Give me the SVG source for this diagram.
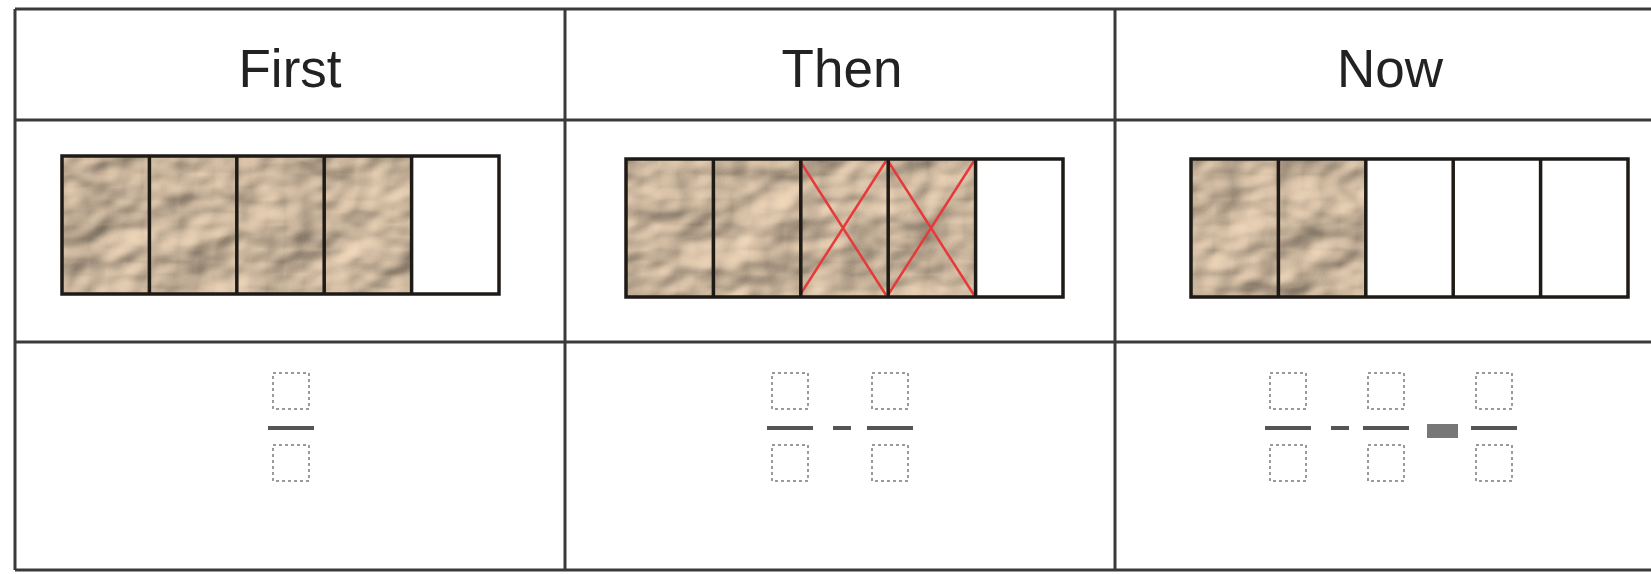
<svg xmlns="http://www.w3.org/2000/svg" width="1651" height="574" viewBox="0 0 1651 574">
<style>
.grid{stroke:#3a3a3a;stroke-width:3;fill:none}
.hdr{font-family:"Liberation Sans",Arial,sans-serif;font-size:53px;fill:#222;text-anchor:middle}
.cell{fill:none;stroke:#1e1a16;stroke-width:3.5}
.box{fill:none;stroke:#9a9a9a;stroke-width:2;stroke-dasharray:3 3}
.bar{stroke:#555;stroke-width:4}
.x{stroke:#e8393a;stroke-width:2.5}
</style>
<defs>
<filter id="crumple" x="0" y="0" width="1" height="1" color-interpolation-filters="sRGB">
<feTurbulence type="fractalNoise" baseFrequency="0.014 0.02" numOctaves="3" seed="11" result="n"/>
<feDiffuseLighting in="n" lighting-color="#e8d0b4" surfaceScale="8" diffuseConstant="1.05" result="l"><feDistantLight azimuth="225" elevation="55"/></feDiffuseLighting>
<feComposite in="l" in2="SourceGraphic" operator="in"/>
</filter>
<g id="frac">
<rect class="box" x="-18" y="-55" width="36" height="36"/>
<line class="bar" x1="-23" y1="0" x2="23" y2="0"/>
<rect class="box" x="-18" y="17" width="36" height="36"/>
</g>
</defs>
<rect width="1651" height="574" fill="#fff"/>
<g id="table">
<line class="grid" x1="15" y1="9" x2="1651" y2="9"/>
<line class="grid" x1="15" y1="120" x2="1651" y2="120"/>
<line class="grid" x1="15" y1="342" x2="1651" y2="342"/>
<line class="grid" x1="15" y1="570" x2="1651" y2="570"/>
<line class="grid" x1="15" y1="9" x2="15" y2="570"/>
<line class="grid" x1="565" y1="9" x2="565" y2="570"/>
<line class="grid" x1="1115" y1="9" x2="1115" y2="570"/>
</g>
<g id="headers">
<text class="hdr" x="290" y="87">First</text>
<text class="hdr" x="842" y="87">Then</text>
<text class="hdr" x="1390" y="87">Now</text>
</g>
<g id="bar-first">
<rect x="62" y="156" width="350" height="138" fill="#c6ab8b" filter="url(#crumple)"/>
<rect class="cell" x="62" y="156" width="437" height="138"/>
<line class="cell" x1="149.4" y1="156" x2="149.4" y2="294"/>
<line class="cell" x1="236.8" y1="156" x2="236.8" y2="294"/>
<line class="cell" x1="324.2" y1="156" x2="324.2" y2="294"/>
<line class="cell" x1="411.6" y1="156" x2="411.6" y2="294"/>
</g>
<g id="bar-then">
<rect x="626" y="159" width="350" height="138" fill="#c6ab8b" filter="url(#crumple)"/>
<line class="x" x1="800" y1="161" x2="886" y2="295"/>
<line class="x" x1="886" y1="161" x2="800" y2="295"/>
<line class="x" x1="888" y1="161" x2="974" y2="295"/>
<line class="x" x1="974" y1="161" x2="888" y2="295"/>
<rect class="cell" x="626" y="159" width="437" height="138"/>
<line class="cell" x1="713.4" y1="159" x2="713.4" y2="297"/>
<line class="cell" x1="800.8" y1="159" x2="800.8" y2="297"/>
<line class="cell" x1="888.2" y1="159" x2="888.2" y2="297"/>
<line class="cell" x1="975.6" y1="159" x2="975.6" y2="297"/>
</g>
<g id="bar-now">
<rect x="1191" y="159" width="175" height="138" fill="#c6ab8b" filter="url(#crumple)"/>
<rect class="cell" x="1191" y="159" width="437" height="138"/>
<line class="cell" x1="1278.4" y1="159" x2="1278.4" y2="297"/>
<line class="cell" x1="1365.8" y1="159" x2="1365.8" y2="297"/>
<line class="cell" x1="1453.2" y1="159" x2="1453.2" y2="297"/>
<line class="cell" x1="1540.6" y1="159" x2="1540.6" y2="297"/>
</g>
<g id="eq-first">
<use href="#frac" x="291" y="428"/>
</g>
<g id="eq-then">
<use href="#frac" x="790" y="428"/>
<line class="bar" x1="833" y1="428" x2="851" y2="428"/>
<use href="#frac" x="890" y="428"/>
</g>
<g id="eq-now">
<use href="#frac" x="1288" y="428"/>
<line class="bar" x1="1331" y1="428" x2="1349" y2="428"/>
<use href="#frac" x="1386" y="428"/>
<rect x="1427" y="424" width="31" height="14" fill="#777"/>
<use href="#frac" x="1494" y="428"/>
</g>
</svg>
